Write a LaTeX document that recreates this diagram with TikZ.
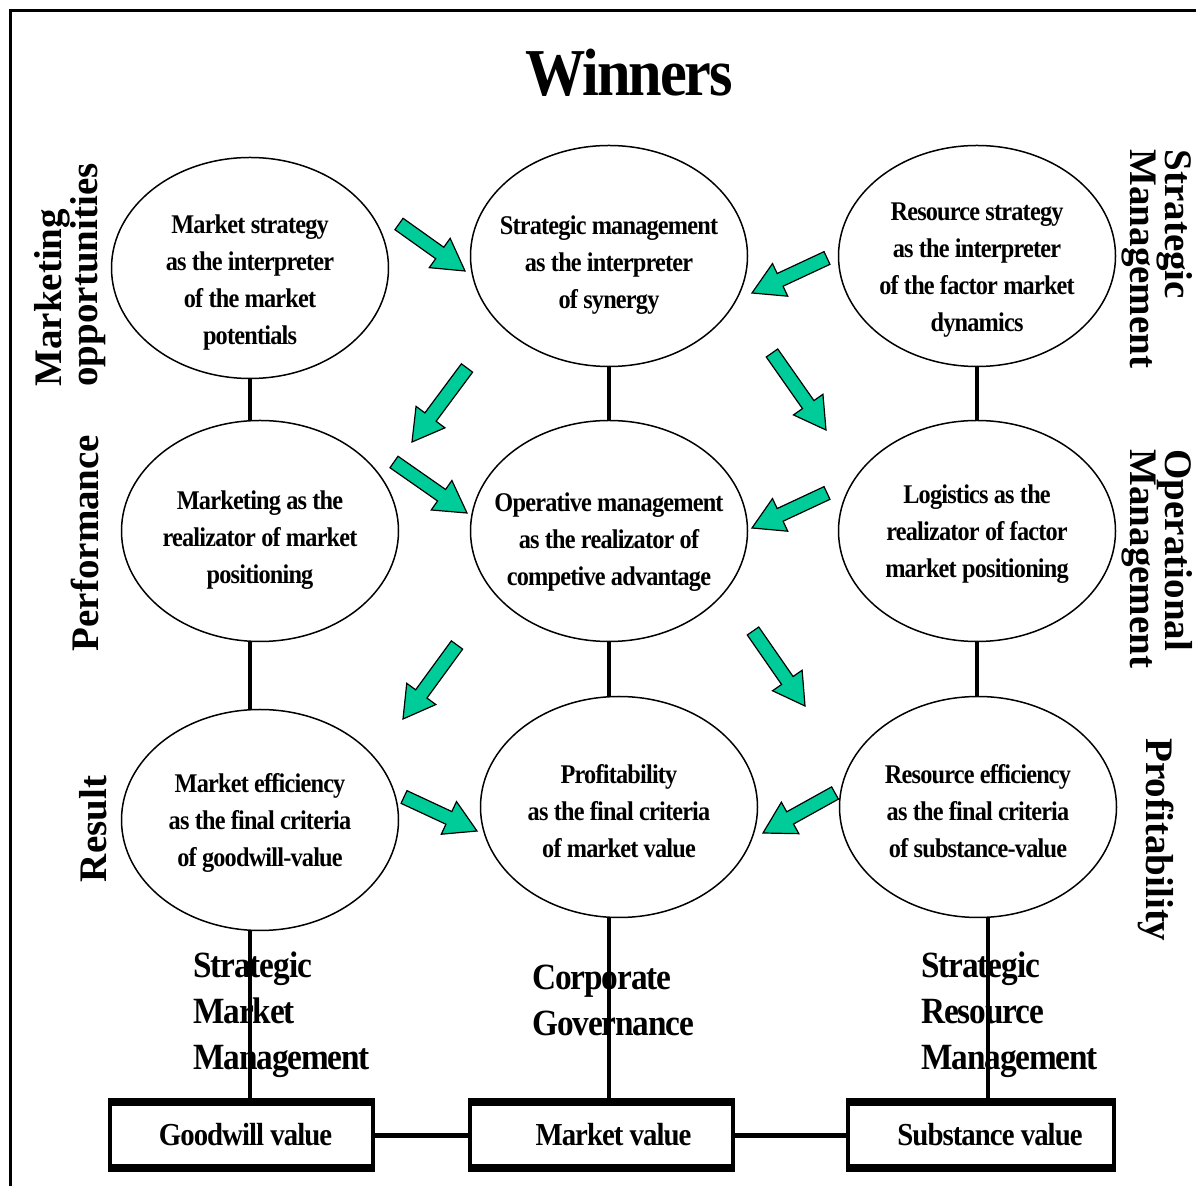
\documentclass[tikz,border=0pt]{standalone}
\usepackage{fontspec}
\setmainfont{Liberation Serif}
\newfontfamily\narrowserif{Liberation Serif}[FakeStretch=0.9,LetterSpace=-3]
\usetikzlibrary{shapes.geometric,calc}

\definecolor{arrowgreen}{RGB}{0,204,153}

% block arrow from #1 (tail) to #2 (tip)
\newcommand\flowarrow[2]{%
  \path[draw=black, fill=arrowgreen, line width=1.2pt, line join=miter]
    let \p1=($(#2)-(#1)$), \n1={atan2(\y1,\x1)}, \n2={veclen(\x1,\y1)-31} in
    (#1) ++(\n1-90:7) -- ++(\n1:\n2) -- ++(\n1-90:11) -- (#2)
    -- ($(#1)+(\n1:\n2)+(\n1+90:18)$) -- ++(\n1-90:11) -- ++(\n1+180:\n2) -- cycle;}

% text of an ellipse, set a little below its centre
\newcommand\ovaltext[2][8pt]{%
  \raisebox{-#1}[\height][\depth]{\begin{tabular}{@{}c@{}}#2\end{tabular}}}

\begin{document}
\begin{tikzpicture}[x=1pt,y=1pt,
  oval/.style={draw, ellipse, line width=1.5pt, minimum width=277pt, minimum height=221pt,
    inner xsep=-60pt, inner ysep=0pt,
    font=\narrowserif\bfseries\fontsize{27}{37}\selectfont},
  valuebox/.style={draw, line width=4pt, minimum width=263pt, minimum height=66pt, inner sep=0pt,
    font=\narrowserif\bfseries\fontsize{32}{36}\selectfont},
  sidelabel/.style={inner sep=0pt, align=left, font=\bfseries\fontsize{39}{33}\selectfont},
  stacklabel/.style={inner sep=0pt, anchor=north west, align=left,
    font=\narrowserif\bfseries\fontsize{37}{46}\selectfont},
  link/.style={line width=4pt}]
\useasboundingbox (0,0) rectangle (1196,1186);

% frame
\draw[line width=3pt] (10,0) -- (10,1175) -- (1196,1175);

\node[font=\narrowserif\bfseries\fontsize{67}{70}\selectfont] (title) at (629,1113) {Winners};

% row labels
\node[sidelabel, rotate=90] (mktopp) at (70,911) {Marketing\\opportunities};
\node[sidelabel, rotate=90] (perf) at (85,643) {Performance};
\node[sidelabel, rotate=90] (result) at (93,357) {Result};
\node[sidelabel, rotate=-90, font=\bfseries\fontsize{39}{32}\selectfont] (stratmgmt) at (1157,927) {Strategic\\Management};
\node[sidelabel, rotate=-90, font=\bfseries\fontsize{39}{32}\selectfont] (opermgmt) at (1157,627) {Operational\\Management};
\node[sidelabel, rotate=-90] (profrow) at (1156,346) {Profitability};

% ellipses
\node[oval] (mstrat) at (250,918) {\ovaltext[14pt]{Market strategy\\as the interpreter\\of the market\\potentials}};
\node[oval] (smgmt) at (609,930) {\ovaltext{Strategic management\\as the interpreter\\of synergy}};
\node[oval] (rstrat) at (977,930) {\ovaltext[13pt]{Resource strategy\\as the interpreter\\of the factor market\\dynamics}};

\node[oval] (mktg) at (260,655) {\ovaltext{Marketing as the\\realizator of market\\positioning}};
\node[oval] (opmgmt) at (609,655) {\ovaltext[10pt]{Operative management\\as the realizator of\\competive advantage}};
\node[oval] (logi) at (977,655) {\ovaltext[2pt]{Logistics as the\\realizator of factor\\market positioning}};

\node[oval] (mkteff) at (260,366) {\ovaltext[2pt]{Market efficiency\\as the final criteria\\of goodwill-value}};
\node[oval] (profit) at (619,379) {\ovaltext[6pt]{Profitability\\as the final criteria\\of market value}};
\node[oval] (reseff) at (978,379) {\ovaltext[6pt]{Resource efficiency\\as the final criteria\\of substance-value}};

% value boxes
\node[valuebox] (goodwill) at (241.5,51) {\hspace*{8pt}Goodwill value};
\node[valuebox] (mktval) at (601.5,51) {\hspace*{24pt}Market value};
\node[valuebox, minimum width=266pt] (subval) at (981,51) {\hspace*{18pt}Substance value};
\foreach \b in {goodwill,mktval,subval} {
  \draw[line width=8pt] ([yshift=-2pt]\b.north west) -- ([yshift=-2pt]\b.north east);
  \draw[line width=8pt] ([yshift=2pt]\b.south west) -- ([yshift=2pt]\b.south east);
}

% captions above the boxes
\node[stacklabel] (smm) at (193,234) {Strategic\\Market\\Management};
\node[stacklabel] (corpgov) at (532,221) {Corporate\\Governance};
\node[stacklabel] (srm) at (921,234) {Strategic\\Resource\\Management};

% vertical links
\draw[link] (mstrat.south) -- (mstrat.south |- mktg.north);
\draw[link] ([xshift=-10pt]mktg.south) -- ([xshift=-10pt]mkteff.north);
\draw[link] ([xshift=-10pt]mkteff.south) -- ([xshift=-10pt]mkteff.south |- goodwill.north);
\draw[link] (smgmt.south) -- (opmgmt.north);
\draw[link] (opmgmt.south) -- (opmgmt.south |- profit.north);
\draw[link] ([xshift=-10pt]profit.south) -- ([xshift=-10pt]profit.south |- mktval.north);
\draw[link] (rstrat.south) -- (logi.north);
\draw[link] (logi.south) -- (logi.south |- reseff.north);
\draw[link] ([xshift=10pt]reseff.south) -- ([xshift=10pt]reseff.south |- subval.north);

% horizontal links
\draw[line width=5pt] (goodwill.east) -- (mktval.west);
\draw[line width=5pt] (mktval.east) -- (subval.west);

% green arrows
\foreach \tx/\ty/\hx/\hy in {399/962/465/915, 827/928/752/893, 467/818/412/744,
    772/833/826/756, 394/724/467/673, 827/693/752/658, 457/541/403/467,
    753/555/805/480, 404/389/477/355, 835/393/763/353} {
  \coordinate (tail) at (\tx,\ty);
  \coordinate (tip) at (\hx,\hy);
  \flowarrow{tail}{tip}
}
\end{tikzpicture}
\end{document}
